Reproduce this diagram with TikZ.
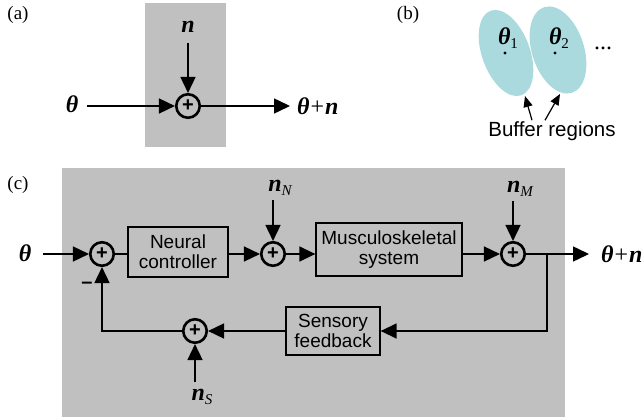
\documentclass[tikz,border=0pt]{standalone}
\usepackage{fontspec}
\setmainfont{Liberation Serif}
\setsansfont{Liberation Sans}
\usepackage{tikz}
\usetikzlibrary{arrows.meta, positioning, calc, shapes.geometric}
\definecolor{panelgray}{RGB}{192,192,192}
\definecolor{buffercyan}{RGB}{170,218,222}
\newcommand{\vecn}{{\bfseries\itshape n}}
\newcommand{\vecth}{{\bfseries\itshape θ}}
\newcommand{\subsc}[1]{\raisebox{-4pt}{\fontsize{15}{15}\selectfont\itshape #1}}
\tikzset{
	sumnode/.style={circle, draw, line width=2.6pt, minimum size=23.5pt, inner sep=0pt,
		font=\sffamily\bfseries\fontsize{20}{20}\selectfont},
	blockbox/.style={draw, line width=1.3pt, align=center, inner sep=0pt,
		font=\sffamily\fontsize{19}{20}\selectfont},
	mathlbl/.style={inner sep=1pt, font=\fontsize{24}{25}\selectfont},
	panellbl/.style={inner sep=0pt, font=\fontsize{19}{20}\selectfont},
	sig/.style={line width=1.5pt, -{Triangle[length=16pt,width=15pt]}},
	wire/.style={line width=1.5pt},
	pointer/.style={line width=1.2pt, -{Triangle[length=11pt,width=9pt]}}
}

\begin{document}
\begin{tikzpicture}[x=1pt, y=-1pt]
	\useasboundingbox (0,0) rectangle (642,417);
	\fill[panelgray] (145,3) rectangle (226,147);
	\fill[panelgray] (62,168) rectangle (565,417);

	\node[panellbl] (lbla) at (18,15) {(a)};
	\node[sumnode] (suma) at (188,106) {+};
	\node[mathlbl] (noisea) at (188,27) {\vecn};
	\node[mathlbl] (ina) at (72,104) {\vecth};
	\node[mathlbl, anchor=west] (outa) at (296,106) {\vecth\kern1pt{+}\kern1pt\vecn};
	\draw[sig, shorten <=8pt] (ina.east |- suma) -- (suma);
	\draw[sig, shorten <=9pt] (noisea) -- (suma);
	\draw[sig, shorten >=6pt] (suma) -- (outa.west);

	\node[panellbl] (lblb) at (408,15) {(b)};
	\fill[buffercyan, rotate around={20:(506,53)}] (506,53) ellipse (24 and 45);
	\fill[buffercyan, rotate around={18:(558,50)}] (558,50) ellipse (26 and 45);
	\node[mathlbl, anchor=base] (th1) at (508,45) {\vecth\subsc{\upshape 1}};
	\node[mathlbl, anchor=base] (th2) at (559,45) {\vecth\subsc{\upshape 2}};
	\fill (505,53) circle (1.6);
	\fill (555,53) circle (1.6);
	\node[mathlbl] (more) at (603,48) {...};
	\node[inner sep=1pt, font=\sffamily\fontsize{20.5}{22}\selectfont] (buf) at (552,131) {Buffer regions};
	\coordinate (tip1) at (525,96);
	\coordinate (tip2) at (560,94);
	\draw[pointer] ($(buf.north)+(-20,0)$) -- (tip1);
	\draw[pointer] ($(buf.north)+(-7,0)$) -- (tip2);

	\node[panellbl] (lblc) at (18,185) {(c)};
	\node[mathlbl] (thc) at (25,253) {\vecth};
	\node[sumnode] (s1) at (102,254) {+};
	\node[blockbox, minimum width=100pt, minimum height=50pt] (nc) at (178,252) {Neural\\controller};
	\node[sumnode] (s2) at (273,254) {+};
	\node[mathlbl] (nN) at (280,188) {\vecn\subsc{N}};
	\node[blockbox, minimum width=146pt, minimum height=53pt] (ms) at (389,249.5) {Musculoskeletal\\system};
	\node[sumnode] (s3) at (513,254) {+};
	\node[mathlbl] (nM) at (520,189) {\vecn\subsc{M}};
	\node[mathlbl, anchor=west] (outc) at (600,254) {\vecth\kern1pt{+}\kern1pt\vecn};
	\coordinate (br) at (547,254);
	\node[blockbox, minimum width=94pt, minimum height=48pt] (sf) at (333,331) {Sensory\\feedback};
	\node[sumnode] (s4) at (195,331) {+};
	\node[mathlbl] (nS) at (202,397) {\vecn\subsc{S}};
	\node[inner sep=0pt, font=\sffamily\bfseries\fontsize{20}{20}\selectfont] (minuslbl) at (87,285) {–};

	\draw[sig, shorten <=11pt] (thc.east |- s1) -- (s1);
	\draw[wire] (s1) -- (nc.west |- s1);
	\draw[sig] (nc.east |- s2) -- (s2);
	\draw[sig, shorten <=3pt] (nN.south -| s2) -- (s2);
	\draw[sig] (s2) -- (ms.west |- s2);
	\draw[sig] (ms.east |- s3) -- (s3);
	\draw[sig, shorten <=3pt] (nM.south -| s3) -- (s3);
	\draw[sig, shorten >=11pt] (s3) -- (outc.west);
	\draw[sig] (br) |- (sf.east);
	\draw[sig] (sf.west) -- (s4);
	\draw[sig, shorten <=6pt] (nS.north -| s4) -- (s4);
	\draw[sig] (s4) -| (s1);
\end{tikzpicture}
\end{document}
